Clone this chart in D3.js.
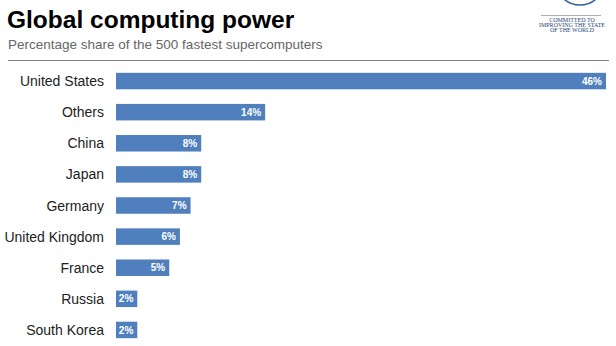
<!DOCTYPE html>
<html>
<head>
<meta charset="utf-8">
<script src="https://cdn.jsdelivr.net/npm/d3@7"></script>
<style>
  body { margin: 0; background: #fff; }
  svg { display: block; font-family: "Liberation Sans", Arial, Helvetica, sans-serif; }
</style>
</head>
<body>
<div id="chart"></div>
<script>
var countries = ["United States", "Others", "China", "Japan", "Germany", "United Kingdom", "France", "Russia", "South Korea"];
var shares = [46, 14, 8, 8, 7, 6, 5, 2, 2];
var logoLines = ["COMMITTED TO", "IMPROVING THE STATE", "OF THE WORLD"];

var width = 616, height = 346;
var barColor = "#4f7fbd";

var svg = d3.select("#chart")
    .append("svg")
    .attr("width", width)
    .attr("height", height);

// title + subtitle
svg.append("text")
    .attr("x", 7)
    .attr("y", 28)
    .style("font-size", "24.5px")
    .style("font-weight", "bold")
    .style("fill", "#000")
    .text("Global computing power");

svg.append("text")
    .attr("x", 8)
    .attr("y", 49)
    .style("font-size", "13.5px")
    .style("fill", "#666")
    .text("Percentage share of the 500 fastest supercomputers");

svg.append("line")
    .attr("x1", 8).attr("x2", 609)
    .attr("y1", 60.5).attr("y2", 60.5)
    .style("stroke", "#808080")
    .style("stroke-width", 1);

// logo bit top right
svg.append("circle")
    .attr("cx", 580).attr("cy", -20).attr("r", 25)
    .style("fill", "none")
    .style("stroke", "#2f5f9e")
    .style("stroke-width", 1.5);

svg.append("line")
    .attr("x1", 541).attr("x2", 601)
    .attr("y1", 15.5).attr("y2", 15.5)
    .style("stroke", "#b0b0b0")
    .style("stroke-width", 1);

svg.selectAll(".logo")
    .data(logoLines)
    .enter().append("text")
    .attr("class", "logo")
    .attr("x", 572)
    .attr("y", function(d, i) { return 22 + i * 5; })
    .attr("text-anchor", "middle")
    .style("font-family", "'Liberation Serif', 'DejaVu Serif', serif")
    .style("font-size", "6px")
    .style("fill", "#1f3f78")
    .text(function(d) { return d; });

// scales
var x = d3.scaleLinear()
    .domain([0, 46])
    .range([116, 606]);

var y = d3.scaleBand()
    .domain(countries)
    .range([65.5, 345.5])
    .paddingInner(0.47)
    .paddingOuter(0.235);

var rows = svg.selectAll(".row")
    .data(countries)
    .enter().append("g")
    .attr("class", "row");

rows.append("rect")
    .attr("x", x(0))
    .attr("y", function(d) { return y(d); })
    .attr("width", function(d, i) { return x(shares[i]) - x(0); })
    .attr("height", y.bandwidth())
    .style("fill", barColor);

rows.append("text")
    .attr("x", 104)
    .attr("y", function(d) { return y(d) + y.bandwidth() / 2; })
    .attr("dy", "0.36em")
    .attr("text-anchor", "end")
    .style("font-size", "14px")
    .style("fill", "#222")
    .text(function(d) { return d; });

rows.append("text")
    .attr("x", function(d, i) { return x(shares[i]) - 4; })
    .attr("y", function(d) { return y(d) + y.bandwidth() / 2; })
    .attr("dy", "0.36em")
    .attr("text-anchor", "end")
    .style("font-size", "10px")
    .style("font-weight", "bold")
    .style("fill", "#fff")
    .text(function(d, i) { return shares[i] + "%"; });
</script>
</body>
</html>
